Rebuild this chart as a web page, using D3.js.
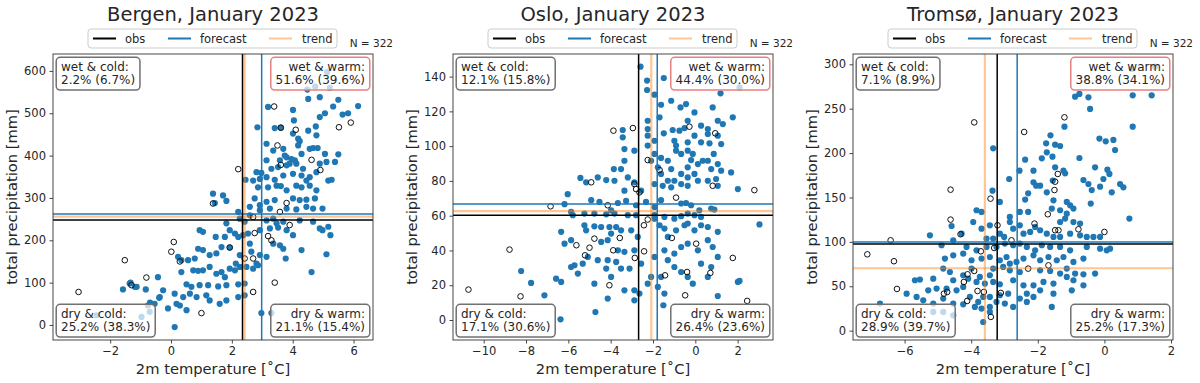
<!DOCTYPE html>
<html>
<head>
<meta charset="utf-8">
<script src="https://cdn.jsdelivr.net/npm/d3@7"></script>
<style>
  body { margin: 0; background: #fff; }
  svg text { font-family: "DejaVu Sans", sans-serif; fill: #262626; }
</style>
</head>
<body>
<svg id="chart" width="1200" height="383"></svg>
<script>
// ---- data ----
var cities = ["Bergen", "Oslo", "Tromsø"];
var title_suffix = ", January 2023";
var n_label = "N = 322";

// filled blue dots (forecast members), [temperature, precipitation]
var bergen_fc = [[4.48,556],[4.74,563],[5.13,597],[5.22,560],[4.51,534],[4.89,538],[5.50,532],[3.19,515],[4.01,508],[5.33,516],[6.15,517],[4.89,491],[5.06,500],[5.64,497],[5.82,500],[4.04,483],[2.84,467],[3.41,465],[3.61,466],[4.76,469],[4.51,459],[4.01,452],[4.78,448],[4.18,440],[3.14,428],[3.36,412],[3.69,416],[4.23,434],[4.18,424],[4.29,404],[4.56,416],[4.67,418],[4.82,418],[5.06,404],[5.50,403],[3.14,389],[3.58,389],[3.80,396],[3.90,381],[4.07,389],[3.74,400],[3.96,392],[2.81,361],[2.97,359],[3.30,369],[3.52,373],[3.80,377],[4.12,381],[4.34,369],[4.89,381],[5.11,385],[5.39,385],[2.70,341],[2.92,345],[3.14,349],[3.41,343],[3.69,353],[4.01,357],[4.29,353],[4.45,341],[4.78,361],[5.17,341],[5.28,343],[4.56,349],[2.86,325],[3.19,325],[3.47,329],[3.61,328],[3.80,318],[4.12,329],[4.29,325],[4.56,329],[4.78,318],[2.45,343],[1.38,310],[1.71,306],
  [1.44,288],[1.82,293],[2.75,299],[3.14,291],[3.41,295],[4.01,299],[4.23,295],[4.45,296],[4.73,299],[4.98,275],[2.59,279],[2.92,271],[3.25,275],[3.80,275],[4.12,273],[4.45,279],[4.67,275],[2.92,283],[2.21,267],[1.82,240],[2.26,251],[2.42,244],[2.59,259],[3.14,247],[3.36,251],[3.47,240],[3.69,244],[4.23,247],[4.67,244],[4.89,228],[5.17,232],[0.94,224],[1.05,220],[1.47,208],[1.93,224],[2.10,216],[2.21,208],[2.37,212],[2.53,216],[2.92,224],[3.25,228],[3.52,230],[3.80,224],[4.01,212],[3.36,192],[3.58,188],[3.69,180],[4.29,177],[4.98,224],[5.24,212],[5.11,167],[4.62,125],[3.77,157],[2.59,192],[2.64,173],[2.81,145],[2.92,165],[3.14,161],[2.26,165],[2.13,145],[1.93,183],[1.77,208],[1.66,184],[1.49,169],[1.27,165],[1.05,177],[0.89,180],[0.78,157],[0.56,153],[0.34,153],[0.23,161],[0.73,129],[0.89,128],[1.05,129],[1.27,137],[1.49,121],[1.66,125],[1.77,113],[1.93,133],[2.10,129],[2.26,137],[2.48,137],[2.70,133],[2.86,141],[0.34,125],[-0.43,113],[-1.36,98],[-1.19,90],[-1.58,84],[-0.83,84],[0.51,96],[0.67,90],[0.94,94],[1.22,94],[1.55,91],[1.82,94],[2.21,96],[2.42,98],[-0.26,82],[0.12,74],[0.40,66],[0.62,74],[0.84,66],[1.16,70],[1.27,58],[1.60,50],[1.82,58],[2.21,66],[2.42,70],[-0.37,66],[-0.54,50],[0.18,50],[0.29,46],[-0.10,39],[0.51,35],[2.97,28],[3.30,28],[0.12,-5],[-2.45,23],[-0.97,19],[-0.70,31],[-0.76,46],[-1.33,100],[-1.13,90],[-0.39,64],[-0.69,53]];
// open circles (hindcast years)
var bergen_hc = [[3.39,516],[3.61,466],[4.10,461],[5.52,467],[5.91,478],[3.50,424],[4.62,390],[4.91,366],[3.61,378],[2.21,368],[1.38,287],[3.80,288],[3.58,267],[2.70,255],[3.90,236],[2.75,217],[3.19,210],[3.30,200],[2.70,157],[2.42,157],[3.41,100],[2.70,78],[0.09,196],[0.01,173],[0.29,150],[-1.52,153],[-0.81,112],[-1.30,94],[1.00,28],[-3.04,78],[1.93,183]];

var oslo_fc = [[-2.59,145.7],[-1.49,139.2],[-2.28,137.7],[-2.28,132.3],[-1.93,129.6],[-1.14,126.1],[1.19,130.4],[2.09,133.8],[-1.62,123.8],[-0.70,122.3],[-0.44,124.2],[-0.04,119.4],[0.82,122.3],[1.77,116.6],[1.30,112.7],[1.06,114.6],[0.59,109.8],[0.27,111.8],[-0.36,114.6],[-0.51,110.4],[-0.75,108.9],[-1.07,109.3],[-1.49,107.4],[-1.69,116.6],[-2.25,114.6],[-2.25,109.8],[-2.25,106.0],[-1.93,103.1],[-2.25,100.3],[-3.43,109.3],[-3.43,105.1],[-3.35,98.3],[-2.88,97.4],[-2.09,91.6],[-1.93,95.5],[-1.62,93.2],[-1.77,87.8],[-1.14,86.8],[-1.30,91.6],[-0.99,103.1],[-0.91,100.3],[-0.91,97.4],[-0.67,95.5],[-0.36,97.4],[-0.12,95.5],[-0.36,102.2],[-0.04,106.0],[0.27,102.2],[0.59,107.0],[0.67,101.6],[1.06,106.0],[1.22,101.2],[0.87,95.5],[0.35,91.6],[0.12,89.7],[-0.20,92.0],[-0.36,87.8],[0.59,91.6],[0.75,86.8],[1.06,89.7],[1.22,85.9],[1.69,84.9],[-0.04,84.0],[-0.36,82.0],[-0.67,84.0],[-0.99,80.1],[-1.30,80.1],[-1.62,84.0],[-1.93,78.2],[-1.54,77.2],[-1.14,76.3],[-0.67,78.2],[-0.36,77.2],[0.12,80.1],[0.59,80.1],[0.98,81.1],[1.06,77.2],[2.01,75.3],[-3.85,86.8],[-3.51,86.8],[-3.35,91.6],[-3.82,80.1],[-3.19,82.0],[-2.88,79.2],[-5.43,81.7],[-5.16,79.2],[-4.21,80.5],[-4.61,82.0],[-6.03,72.4],[-3.35,74.4],[-2.56,74.4],
  [-6.18,66.6],[-4.92,68.9],[-4.53,67.9],[-3.98,63.1],[-3.66,67.3],[-3.27,68.5],[-2.80,66.0],[-2.33,67.9],[-1.93,65.0],[-1.62,68.9],[-0.67,67.0],[-0.44,67.3],[-0.20,66.0],[0.19,63.1],[0.75,64.1],[0.90,63.5],[-5.87,62.2],[-5.79,60.3],[-5.24,61.2],[-4.77,61.2],[-4.21,60.8],[-3.82,61.2],[-3.19,60.3],[-2.80,60.3],[-1.93,60.3],[-1.93,58.3],[-1.46,59.3],[-0.99,58.3],[-0.67,59.7],[-0.36,61.2],[-0.04,60.3],[0.27,59.3],[-6.34,50.7],[-5.87,45.9],[-6.18,43.9],[-5.24,54.5],[-5.16,51.6],[-4.77,53.9],[-4.45,53.5],[-4.06,53.5],[-3.74,53.5],[-3.51,51.6],[-3.03,51.6],[-2.72,47.8],[-3.98,49.7],[-4.14,45.9],[-4.45,44.9],[-5.08,36.3],[-4.61,34.4],[-4.14,34.4],[-3.66,40.1],[-3.35,39.2],[-2.88,40.1],[-2.56,32.4],[-1.93,36.3],[-1.69,54.5],[-1.46,52.6],[-1.30,47.8],[-0.91,51.6],[-0.51,54.5],[-0.36,55.5],[-0.04,51.6],[0.27,54.5],[0.59,53.5],[1.06,50.7],[3.03,55.0],[-1.46,40.1],[-0.99,38.2],[-0.67,42.0],[-0.36,43.9],[0.12,40.1],[0.59,45.9],[0.82,42.0],[0.27,32.4],[0.75,30.5],[1.06,36.3],[-0.99,30.5],[-0.67,27.6],[-0.36,24.8],[-0.12,20.9],[0.59,24.8],[-1.30,34.4],[-1.62,24.8],[-2.09,24.8],[-2.25,20.9],[2.01,21.9],[2.09,22.5],[-1.77,19.0],[-1.46,15.2],[-2.88,17.1],[-2.64,15.2],[-3.35,17.1],[-4.14,12.3],[-3.98,24.8],[-3.51,29.6],[-3.11,29.6],[-4.77,20.9],[-5.87,30.5],[-5.55,26.7],[-5.71,31.5],[-6.58,23.8],[-6.34,21.9],[-7.76,21.3],[-7.13,14.2],[-8.23,28.2],[-4.21,29.6],[-5.32,32.4],[-3.74,33.4],[-2.88,11.3],[-1.51,8.5],[1.06,13.8],[-4.72,4.6],[-6.37,0.4]];
var oslo_hc = [[-0.28,111.2],[-2.95,110.4],[-3.87,108.9],[0.94,107.4],[-2.25,92.0],[-1.69,86.3],[0.82,77.2],[2.79,74.7],[-4.92,79.2],[-2.88,78.2],[-2.80,75.3],[-2.64,73.4],[-4.14,66.0],[-0.91,70.4],[-6.84,65.4],[-2.25,57.8],[-2.43,54.5],[-5.62,43.0],[-4.77,46.8],[-5.00,41.6],[-3.57,47.2],[-5.21,37.2],[-3.88,40.1],[-2.86,35.7],[-2.42,39.5],[-1.11,47.2],[0.04,43.9],[-1.43,25.7],[-0.39,27.6],[0.71,27.1],[1.77,35.7],[-0.48,14.2],[2.45,11.0],[-10.72,17.5],[-8.78,40.5],[-8.26,13.6],[-4.06,20.0]];

var tromso_fc = [[-0.88,263.5],[-0.75,266.6],[-0.48,262.8],[-0.43,249.7],[0.85,265.1],[1.42,265.1],[0.85,229.8],[-1.20,229.8],[-1.62,220.0],[-1.75,211.0],[-1.48,209.5],[-1.33,208.0],[-1.73,200.9],[-1.56,196.0],[-1.88,194.1],[-2.38,192.6],[-0.75,194.5],[-0.15,216.3],[0.04,213.3],[0.27,214.8],[0.32,203.5],[-0.28,184.0],[0.09,181.3],[0.15,176.5],[-0.03,170.8],[-0.63,169.7],[-0.48,165.2],[-0.38,158.4],[-0.13,162.2],[0.22,155.8],[0.47,165.2],[0.57,161.4],[-2.55,180.2],[-2.13,180.2],[-1.48,184.0],[-1.23,180.2],[-1.18,177.2],[-2.86,170.8],[-2.13,167.1],[-2.05,163.3],[-1.93,163.3],[-1.73,155.8],[-1.55,169.0],[-3.34,205.4],[-3.36,157.7],[-2.29,154.7],[1.52,297.3],[0.82,294.7],
  [-3.14,145.0],[-2.38,147.6],[-1.53,146.8],[-1.13,145.0],[-1.03,141.2],[-0.41,143.1],[-1.58,137.5],[-1.33,135.6],[-1.13,131.8],[-0.93,137.5],[-1.18,126.2],[-1.33,122.4],[-0.93,122.4],[-0.73,120.6],[0.75,126.2],[-2.54,133.7],[-2.29,133.7],[-2.84,128.1],[-2.84,122.4],[-2.74,114.9],[-2.54,118.7],[-2.43,109.3],[-2.23,111.2],[-2.08,116.8],[-1.93,113.1],[-1.73,109.3],[-1.53,105.6],[-1.33,105.6],[-1.03,109.3],[-0.73,107.4],[-0.53,105.6],[-0.33,105.6],[-0.13,105.6],[-3.84,135.6],[-3.69,133.7],[-3.94,122.4],[-3.69,114.9],[-3.44,118.7],[-3.14,109.3],[-3.01,105.6],[-3.34,103.7],[-3.54,103.7],[-5.24,107.4],[-4.59,117.9],[-4.29,109.3],[-4.89,96.2],[-4.54,101.8],[-4.14,94.3],[-3.84,90.5],[-3.54,94.3],[-3.24,94.3],[-2.99,98.1],[-2.74,96.2],[-2.54,98.1],[-2.33,94.3],[-2.08,90.5],[-1.88,96.2],[-1.63,94.3],[-1.33,94.3],[-1.03,90.5],[-0.53,94.3],[-0.13,92.4],[0.07,90.5],[0.17,92.4],[-4.79,81.2],[-4.54,84.9],[-4.24,86.8],[-3.99,79.3],[-3.69,81.2],[-3.44,83.0],[-3.14,79.3],[-2.94,83.0],[-2.84,75.5],[-2.64,77.4],[-2.43,81.2],[-2.13,84.9],[-1.93,79.3],[-1.68,83.0],[-1.43,79.3],[-1.23,83.0],[-0.93,77.4],[-0.63,81.2],[-1.13,69.9],[-0.88,64.3],[-0.63,63.5],[-0.28,64.3],[-1.33,64.3],[-1.63,67.3],[-1.93,68.0],[-2.54,66.1],[-2.84,68.0],[-3.04,71.8],[-3.34,69.9],[-3.44,62.4],[-3.74,60.5],[-3.99,69.9],[-4.24,62.4],[-4.64,66.1],[-4.84,69.9],[-5.14,58.6],[-5.54,57.5],[-5.69,56.8],[-4.54,56.8],[-4.09,58.6],[-3.84,54.9],[-3.59,53.0],[-3.34,54.9],[-3.14,52.3],[-2.74,56.8],[-2.43,51.1],[-2.13,51.1],[-1.83,54.9],[-1.53,53.0],[-1.13,60.5],[-0.93,56.8],[-0.63,51.1],[-1.93,45.5],[-1.53,41.7],[-0.98,45.5],[-2.33,41.7],[-2.54,36.1],[-2.89,41.7],[-3.14,39.9],[-3.44,38.0],[-3.64,38.0],[-3.79,32.4],[-4.04,38.0],[-4.24,49.3],[-4.44,45.5],[-4.74,47.4],[-5.04,47.4],[-5.29,45.5],[-5.94,41.7],[-5.64,38.0],[-5.44,34.2],[-5.14,30.5],[-4.84,36.1],[-4.54,30.5],[-4.24,29.7],[-3.89,26.7],[-3.69,24.9],[-3.44,26.7],[-3.24,32.4],[-2.99,30.5],[-2.74,26.7],[-2.33,32.4],[-2.13,38.0],[-1.58,26.7],[-3.64,9.8],[-3.44,21.1],[-5.14,21.1],[-4.84,21.1],[-4.54,17.3],[-6.74,30.5]];
var tromso_hc = [[-1.20,240.3],[-2.41,223.8],[-3.91,234.6],[-4.62,158.8],[-1.40,176.5],[-1.48,167.8],[-1.50,158.4],[-3.42,148.7],[-1.70,131.1],[-2.10,120.6],[-1.48,113.1],[-1.38,113.1],[-0.78,114.2],[0.00,111.2],[-3.21,118.7],[-2.79,101.8],[-4.32,108.6],[-4.62,125.1],[-6.42,101.8],[-7.12,86.0],[-6.32,78.2],[-3.31,93.2],[-3.71,89.4],[-1.68,73.6],[-2.29,69.9],[-3.91,67.3],[-4.11,63.5],[-4.22,54.9],[-4.82,41.7],[-4.72,43.6],[-6.23,47.0],[-3.11,42.5],[-3.81,44.7],[-3.62,43.6],[-4.12,33.5],[-3.41,15.5]];

// median lines: [temperature, precipitation]
var obs_lines      = [[2.35,248],[-2.68,60.2],[-3.22,97.6]];
var forecast_lines = [[2.98,262],[-1.80,66.7],[-2.62,99.9]];
var trend_lines    = [[2.42,256],[-2.08,62.6],[-3.59,70.3]];

// quadrant labels
var wet_cold = ["2.2% (6.7%)", "12.1% (15.8%)", "7.1% (8.9%)"];
var wet_warm = ["51.6% (39.6%)", "44.4% (30.0%)", "38.8% (34.1%)"];
var dry_cold = ["25.2% (38.3%)", "17.1% (30.6%)", "28.9% (39.7%)"];
var dry_warm = ["21.1% (15.4%)", "26.4% (23.6%)", "25.2% (17.3%)"];

// axes ranges and ticks
var x_domains = [[-3.88, 6.64], [-11.45, 3.67], [-7.55, 2.06]];
var y_domains = [[-35.5, 640], [-11.5, 153], [-10.5, 311.6]];
var x_ticks = [[-2,0,2,4,6], [-10,-8,-6,-4,-2,0,2], [-6,-4,-2,0,2]];
var y_ticks = [[0,100,200,300,400,500,600], [0,20,40,60,80,100,120,140], [0,50,100,150,200,250,300]];

var fc_data = [bergen_fc, oslo_fc, tromso_fc];
var hc_data = [bergen_hc, oslo_hc, tromso_hc];

// ---- drawing ----
var svg = d3.select("#chart");
var blue = "#1f77b4", orange = "#ff7f0e";
var plotW = 320, plotTop = 54, plotBottom = 340;
var lefts = [53, 453, 853];

cities.forEach(function(city, i) {
  var left = lefts[i];
  var x = d3.scaleLinear().domain(x_domains[i]).range([left, left + plotW]);
  var y = d3.scaleLinear().domain(y_domains[i]).range([plotBottom, plotTop]);
  var g = svg.append("g");

  // scatter
  g.append("g").selectAll("circle").data(fc_data[i]).enter().append("circle")
    .attr("cx", function(d) { return x(d[0]); })
    .attr("cy", function(d) { return y(d[1]); })
    .attr("r", 3.1)
    .attr("fill", blue);

  g.append("g").selectAll("circle").data(hc_data[i]).enter().append("circle")
    .attr("cx", function(d) { return x(d[0]); })
    .attr("cy", function(d) { return y(d[1]); })
    .attr("r", 2.8)
    .attr("fill", "none")
    .attr("stroke", "#111")
    .attr("stroke-width", 1);

  // median lines
  var lines = [[trend_lines[i], orange, 2.2, 0.45], [forecast_lines[i], blue, 1.5, 1], [obs_lines[i], "#000", 1.5, 1]];
  lines.forEach(function(l) {
    g.append("line").attr("x1", x(l[0][0])).attr("x2", x(l[0][0]))
      .attr("y1", plotTop).attr("y2", plotBottom)
      .attr("stroke", l[1]).attr("stroke-width", l[2]).attr("stroke-opacity", l[3]);
    g.append("line").attr("x1", left).attr("x2", left + plotW)
      .attr("y1", y(l[0][1])).attr("y2", y(l[0][1]))
      .attr("stroke", l[1]).attr("stroke-width", l[2]).attr("stroke-opacity", l[3]);
  });

  // axes
  var xa = g.append("g").attr("transform", "translate(0," + plotBottom + ")")
    .call(d3.axisBottom(x).tickValues(x_ticks[i]).tickSize(3.5).tickPadding(3.5).tickSizeOuter(0));
  var ya = g.append("g").attr("transform", "translate(" + left + ",0)")
    .call(d3.axisLeft(y).tickValues(y_ticks[i]).tickSize(3.5).tickPadding(3.5).tickSizeOuter(0));
  [xa, ya].forEach(function(a) {
    a.select(".domain").remove();
    a.selectAll(".tick line").attr("stroke", "#333").attr("stroke-width", 0.9);
    a.selectAll("text").attr("font-size", 11.5).attr("fill", "#262626")
      .style("font-family", "DejaVu Sans");
  });

  // quadrant boxes
  var boxes = [
    ["wet & cold:", wet_cold[i], "start", 8, 16.7, "#707070"],
    ["wet & warm:", wet_warm[i], "end", 312, 16.7, "#e88080"],
    ["dry & cold:", dry_cold[i], "start", 8, 263.7, "#707070"],
    ["dry & warm:", dry_warm[i], "end", 312, 263.7, "#707070"]
  ];
  boxes.forEach(function(b) {
    var bg = g.append("g");
    var rect = bg.append("rect");
    var t = bg.append("text").attr("font-size", 12).attr("text-anchor", b[2]);
    t.append("tspan").attr("x", left + b[3]).attr("y", plotTop + b[4]).text(b[0]);
    t.append("tspan").attr("x", left + b[3]).attr("y", plotTop + b[4] + 13.3).text(b[1]);
    var bb = t.node().getBBox();
    rect.attr("x", bb.x - 4.8).attr("y", plotTop + b[4] - 13.4)
      .attr("width", bb.width + 9.6).attr("height", 32.8)
      .attr("rx", 4).attr("fill", "#fff").attr("fill-opacity", 0.72)
      .attr("stroke", b[5]).attr("stroke-width", 1.5);
  });

  // frame
  g.append("rect").attr("x", left).attr("y", plotTop).attr("width", plotW).attr("height", plotBottom - plotTop)
    .attr("fill", "none").attr("stroke", "#333").attr("stroke-width", 0.9);

  // title, labels
  g.append("text").attr("x", left + plotW / 2).attr("y", 21).attr("text-anchor", "middle")
    .attr("font-size", 19.5).text(city + title_suffix);
  g.append("text").attr("x", left + plotW / 2).attr("y", 374).attr("text-anchor", "middle")
    .attr("font-size", 14.7).text("2m temperature [˚C]");
  g.append("text").attr("transform", "translate(" + (left - 36) + "," + ((plotTop + plotBottom) / 2) + ") rotate(-90)")
    .attr("text-anchor", "middle").attr("font-size", 14.7).text("total precipitation [mm]");
  g.append("text").attr("x", left + 340).attr("y", 47).attr("text-anchor", "end")
    .attr("font-size", 10.5).text(n_label);

  // legend
  var lg = g.append("g").attr("transform", "translate(" + left + ",0)");
  lg.append("rect").attr("x", 35).attr("y", 29).attr("width", 249).attr("height", 19)
    .attr("rx", 3).attr("fill", "#fff").attr("stroke", "#cccccc").attr("stroke-width", 1);
  var items = [["obs", "#000", 1, 40, 72], ["forecast", blue, 1, 115, 147], ["trend", orange, 0.45, 216, 249]];
  items.forEach(function(it) {
    lg.append("line").attr("x1", it[3]).attr("x2", it[3] + 23).attr("y1", 38.5).attr("y2", 38.5)
      .attr("stroke", it[1]).attr("stroke-opacity", it[2]).attr("stroke-width", 2);
    lg.append("text").attr("x", it[4]).attr("y", 42.5).attr("font-size", 11.5).text(it[0]);
  });
});
</script>
</body>
</html>
